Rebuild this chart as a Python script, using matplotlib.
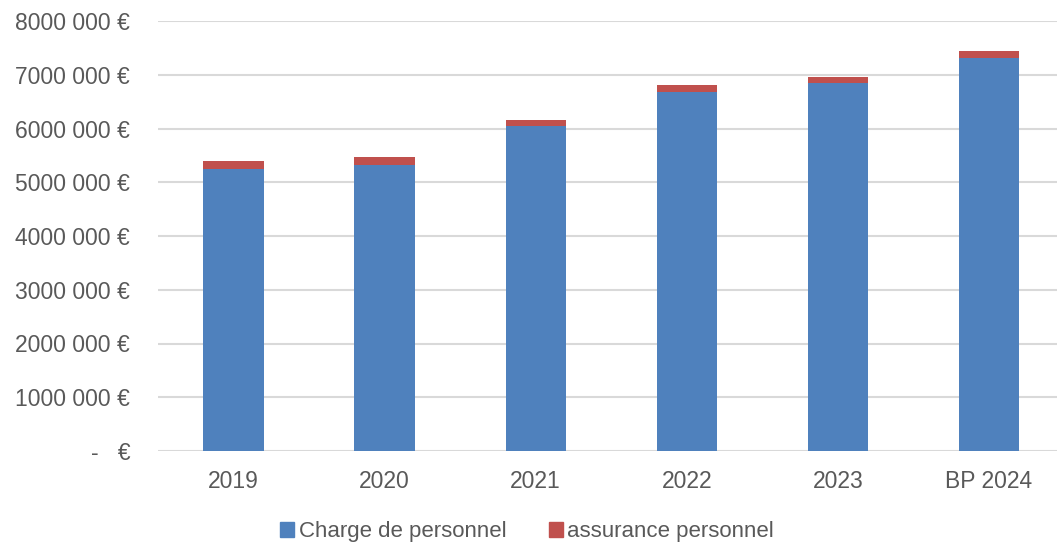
import matplotlib.pyplot as plt
import numpy as np
from matplotlib.patches import Patch

# données (en euros)
annees = ['2019', '2020', '2021', '2022', '2023', 'BP 2024']
charge_personnel = [5240000, 5330000, 6055000, 6675000, 6855000, 7305000]
assurance_personnel = [155000, 135000, 110000, 140000, 110000, 135000]

y_ticks = [0, 1000000, 2000000, 3000000, 4000000, 5000000, 6000000, 7000000, 8000000]
y_labels = ['-   €', '1000 000 €', '2000 000 €', '3000 000 €', '4000 000 €',
            '5000 000 €', '6000 000 €', '7000 000 €', '8000 000 €']

bleu = '#4F81BD'
rouge = '#C0504D'
gris = '#595959'

plt.rcParams['font.family'] = ['Liberation Sans', 'DejaVu Sans']

fig = plt.figure(figsize=(10.57, 5.42), dpi=100)
ax = fig.add_axes([158 / 1057, 91 / 542, (1057 - 158) / 1057, 430 / 542])

x = np.arange(len(annees))
ax.bar(x, charge_personnel, width=0.4, color=bleu, zorder=3)
ax.bar(x, assurance_personnel, width=0.4, bottom=charge_personnel, color=rouge, zorder=3)

ax.set_xlim(-0.5, 5.45)
ax.set_ylim(0, 8000000)
ax.set_yticks(y_ticks)
ax.set_yticklabels(y_labels)
ax.set_xticks(x)
ax.set_xticklabels(annees)
ax.tick_params(axis='both', length=0, labelsize=16.5, colors=gris)
ax.tick_params(axis='y', pad=20)
ax.tick_params(axis='x', pad=14)

ax.grid(axis='y', color='#D9D9D9', lw=1.5, zorder=0)
for s in ax.spines.values():
    s.set_visible(False)

handles = [Patch(color=bleu, label='Charge de personnel'),
           Patch(color=rouge, label='assurance personnel')]
fig.legend(handles=handles, loc='center', bbox_to_anchor=(527 / 1057, 1 - 532 / 542),
           ncol=2, frameon=False, fontsize=16, labelcolor=gris,
           handlelength=0.65, handleheight=0.65, handletextpad=0.2, columnspacing=1.9)

fig.savefig('out.png', dpi=100)
